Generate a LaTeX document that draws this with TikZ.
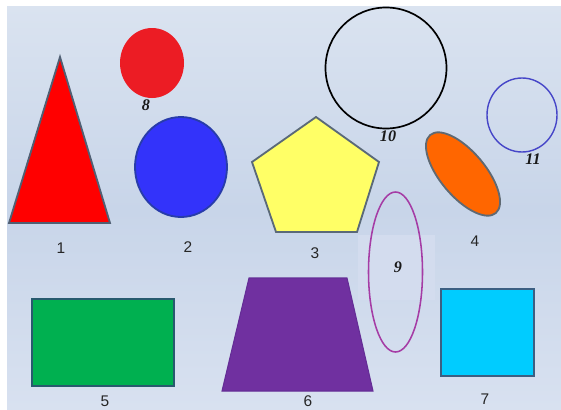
\documentclass[tikz,border=0pt]{standalone}
\usepackage{fontspec}
\setmainfont{Liberation Serif}
\setsansfont{Liberation Sans}
\definecolor{bgtop}{RGB}{218,227,240}
\definecolor{bgmid}{RGB}{200,213,233}
\definecolor{bgbot}{RGB}{216,225,240}
\definecolor{bgpatch}{RGB}{211,220,238}
\definecolor{edgegray}{RGB}{80,95,115}
\definecolor{redfill}{RGB}{236,28,36}
\definecolor{blueedge}{RGB}{40,60,170}
\definecolor{bluefill}{RGB}{51,51,250}
\definecolor{penedge}{RGB}{90,105,120}
\definecolor{yellowfill}{RGB}{255,255,102}
\definecolor{circblue}{RGB}{70,70,200}
\definecolor{orangeedge}{RGB}{95,105,115}
\definecolor{orangefill}{RGB}{255,102,0}
\definecolor{purpleline}{RGB}{165,60,165}
\definecolor{greenedge}{RGB}{40,90,110}
\definecolor{greenfill}{RGB}{0,176,80}
\definecolor{trapedge}{RGB}{100,45,150}
\definecolor{trapfill}{RGB}{112,48,160}
\definecolor{cyanedge}{RGB}{60,95,130}
\definecolor{cyanfill}{RGB}{0,204,255}
\begin{document}
\begin{tikzpicture}[x=0.5mm,y=-0.5mm,
  num/.style={font=\sffamily\fontsize{22}{25}\selectfont,text=black!85},
  inum/.style={font=\bfseries\itshape\fontsize{23}{26}\selectfont,text=black!90},
  solid shape/.style={line width=2.6pt,draw=#1},
]
\useasboundingbox (0,0) rectangle (561,409);
\fill[white] (0,0) rectangle (561,409);
\shade[top color=bgtop,bottom color=bgmid] (7,6) rectangle (561,210);
\shade[top color=bgmid,bottom color=bgbot] (7,210) rectangle (561,409);
\fill[bgpatch] (358,235) rectangle (435,300);
% 1 triangle
\draw[solid shape=edgegray,fill=red,line join=miter] (60,57) -- (110,223) -- (9,223) -- cycle;
\node[num] (l1) at (61,248) {1};
% 8 red circle
\fill[redfill] (152,63) ellipse [x radius=32,y radius=35];
\node[inum] (l8) at (146,105) {8};
% 2 blue circle
\draw[solid shape=blueedge,fill=bluefill] (181,167) ellipse [x radius=46,y radius=50];
\node[num] (l2) at (188,247) {2};
% 3 pentagon
\draw[solid shape=penedge,fill=yellowfill] (316,117) -- (379,162) -- (357,232) -- (276,232) -- (252,162) -- cycle;
\node[num] (l3) at (315,253) {3};
% 10 black circle
\draw[line width=2.4pt,black] (386,68) circle [radius=60.5];
\node[inum] (l10) at (388,136) {10};
% 11 blue outline circle
\draw[line width=2pt,circblue] (522,115) ellipse [x radius=35,y radius=37];
\node[inum] (l11) at (533,159) {11};
% 4 orange ellipse
\draw[solid shape=orangeedge,fill=orangefill,rotate around={-50:(463,174)}] (463,174) ellipse [x radius=51,y radius=22.5];
\node[num] (l4) at (475,241) {4};
% 9 purple ellipse
\draw[line width=2.2pt,purpleline] (395.5,272) ellipse [x radius=27,y radius=80];
\node[inum] (l9) at (398,267) {9};
% 5 green rectangle
\draw[solid shape=greenedge,fill=greenfill] (32,299) rectangle (174,386);
\node[num] (l5) at (105,401) {5};
% 6 trapezoid
\draw[line width=1.5pt,draw=trapedge,fill=trapfill] (249,278) -- (347,278) -- (373,391) -- (222,391) -- cycle;
\node[num] (l6) at (308,401) {6};
% 7 cyan square
\draw[solid shape=cyanedge,fill=cyanfill] (441,289) rectangle (534,376);
\node[num] (l7) at (485,399) {7};
\end{tikzpicture}
\end{document}
